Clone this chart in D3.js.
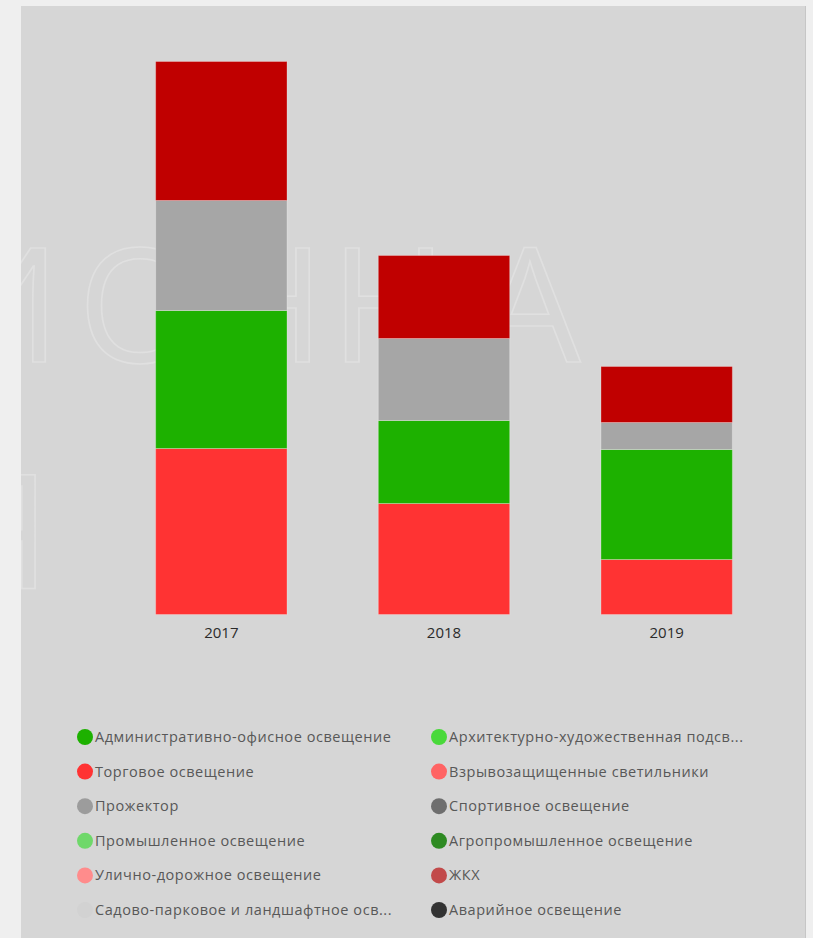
<!DOCTYPE html>
<html>
<head>
<meta charset="utf-8">
<script src="https://cdn.jsdelivr.net/npm/d3@7"></script>
<style>
  html, body { margin: 0; padding: 0; background: #efefef; }
  svg { display: block; }
</style>
</head>
<body>
<svg id="chart" width="813" height="938"></svg>
<script>
// ---------- DATA ----------
const years = ["2017", "2018", "2019"];

const legendNames = [
  "Административно-офисное освещение",
  "Торговое освещение",
  "Прожектор",
  "Промышленное освещение",
  "Улично-дорожное освещение",
  "Садово-парковое и ландшафтное осв...",
  "Архитектурно-художественная подсв...",
  "Взрывозащищенные светильники",
  "Спортивное освещение",
  "Агропромышленное освещение",
  "ЖКХ",
  "Аварийное освещение"
];

const legendColors = [
  "#1db100", "#ff3333", "#9c9c9c", "#6fd86a", "#ff8c8c", "#d2d2d2",
  "#49d93a", "#ff6464", "#6e6e6e", "#2e8a22", "#c24a4a", "#333333"
];

// stacked series, bottom to top
const stackKeys = ["Торговое освещение", "Административно-офисное освещение", "Прожектор", "ЖКХ"];
const barColors = ["#ff3333", "#1db100", "#a6a6a6", "#c00000"];

const torgValues  = [166, 111, 55];
const adminValues = [138, 83, 110];
const prozhValues = [110, 82, 27];
const zhkhValues  = [139, 83, 56];

const yMax = 600;

// watermark glyphs (decorative background text)
const watermarkRow1 = ["И", "О", "Н", "Н", "А"];
const watermarkRow2 = ["Я"];

// ---------- BUILD ----------
const rows = years.map((y, i) => ({
  year: y,
  "Торговое освещение": torgValues[i],
  "Административно-офисное освещение": adminValues[i],
  "Прожектор": prozhValues[i],
  "ЖКХ": zhkhValues[i]
}));

const svg = d3.select("#chart");

// panel
const defs = svg.append("defs");
defs.append("clipPath").attr("id", "panelClip")
  .append("rect").attr("x", 21).attr("y", 6).attr("width", 785).attr("height", 932);

svg.append("rect")
  .attr("x", 21).attr("y", 6).attr("width", 785).attr("height", 932)
  .attr("fill", "#d6d6d6");
svg.append("line")
  .attr("x1", 805.5).attr("x2", 805.5).attr("y1", 6).attr("y2", 938)
  .attr("stroke", "#c6c6c6").attr("stroke-width", 1);

// watermark
const wm = svg.append("g").attr("clip-path", "url(#panelClip)")
  .attr("font-family", "'Open Sans', sans-serif")
  .attr("font-size", 160)
  .attr("fill", "none")
  .attr("stroke", "#e0e0e0")
  .attr("stroke-width", 1.6);
wm.selectAll("text.r1").data(watermarkRow1).join("text")
  .attr("class", "r1")
  .attr("x", (d, i) => [0, 140, 266, 389, 530][i])
  .attr("y", 362)
  .attr("text-anchor", "middle")
  .text(d => d);
wm.selectAll("text.r2").data(watermarkRow2).join("text")
  .attr("class", "r2")
  .attr("x", 0)
  .attr("y", 589)
  .attr("text-anchor", "middle")
  .text(d => d);

// scales
const x = d3.scaleBand()
  .domain(years)
  .range([110, 778])
  .paddingInner(0.41)
  .paddingOuter(0.205);

const y = d3.scaleLinear()
  .domain([0, yMax])
  .range([614.5, 14.5]);

const color = d3.scaleOrdinal().domain(stackKeys).range(barColors);

const stacked = d3.stack().keys(stackKeys)(rows);

svg.append("g")
  .selectAll("g")
  .data(stacked)
  .join("g")
  .attr("fill", d => color(d.key))
  .selectAll("rect")
  .data(d => d)
  .join("rect")
  .attr("x", d => x(d.data.year))
  .attr("width", x.bandwidth())
  .attr("y", d => y(d[1]))
  .attr("height", d => y(d[0]) - y(d[1]))
  .attr("stroke", "rgba(255,255,255,0.28)")
  .attr("stroke-width", 1);

// x axis
const xAxis = svg.append("g")
  .attr("transform", `translate(0, ${y(0)})`)
  .call(d3.axisBottom(x).tickSize(0).tickPadding(13));
xAxis.select(".domain").remove();
xAxis.selectAll("text")
  .attr("font-family", "'Open Sans', sans-serif")
  .attr("font-size", 15)
  .attr("fill", "#2b2b2b");

// legend
const legendCol = d3.scaleOrdinal().domain([0, 1]).range([85, 439]);
const legendRow = d3.scaleLinear().domain([0, 5]).range([737, 910]);

const legend = svg.append("g")
  .attr("font-family", "'Open Sans', sans-serif")
  .attr("font-size", 14.5)
  .attr("letter-spacing", 0.55);

const items = legend.selectAll("g")
  .data(legendNames)
  .join("g")
  .attr("transform", (d, i) => `translate(${legendCol(Math.floor(i / 6))}, ${legendRow(i % 6)})`);

items.append("circle")
  .attr("r", 8)
  .attr("fill", (d, i) => legendColors[i]);

items.append("text")
  .attr("x", 10)
  .attr("dy", "0.35em")
  .attr("fill", "#585858")
  .text(d => d);
</script>
</body>
</html>
